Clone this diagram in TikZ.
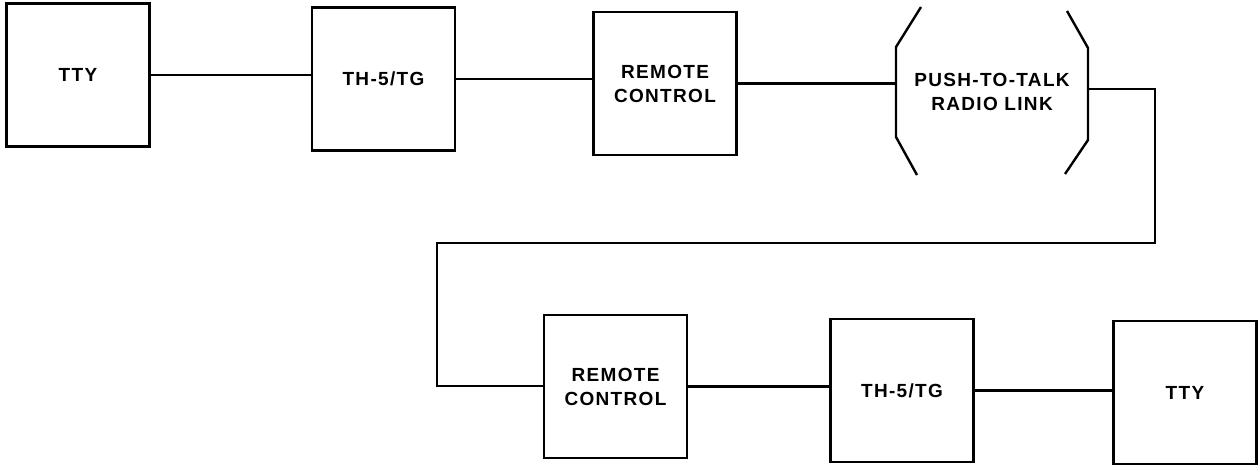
\documentclass[tikz,border=0pt]{standalone}
\usepackage{fontspec}
\setmainfont{Liberation Sans}
\begin{document}
\begin{tikzpicture}[x=1pt,y=-1pt,line width=2.4pt,
  lbl/.style={inner sep=0pt, align=center,
    font=\fontsize{19}{24}\selectfont\bfseries\addfontfeature{LetterSpace=7}},
  box/.style={lbl, draw, minimum width=143pt, minimum height=143pt}]
\useasboundingbox (0,0) rectangle (1260,466);
% top row
\node[box] (tty1) at (78,75) {TTY};
\node[box] (th1) at (383.5,79) {TH-5/TG};
\node[box] (rc1) at (665,83.5) {REMOTE\\CONTROL};
\node[lbl, minimum width=192pt, minimum height=100pt] (radio) at (992,92) {PUSH-TO-TALK\\RADIO LINK};
\draw (921,7) -- (896,47) -- (896,137) -- (917,175);
\draw (1067,11) -- (1088,48) -- (1088,140) -- (1065,174);
% bottom row
\node[box] (rc2) at (615.5,386.5) {REMOTE\\CONTROL};
\node[box] (th2) at (902,390.5) {TH-5/TG};
\node[box] (tty2) at (1185,392.5) {TTY};
% connectors
\draw (tty1.east) -- (tty1.east -| th1.west);
\draw (th1.east) -- (th1.east -| rc1.west);
\draw (rc1.east) -- (rc1.east -| radio.west);
\coordinate (r1) at (1155,89);
\coordinate (r2) at (1155,243);
\coordinate (r3) at (437,243);
\coordinate (r4) at (437,386);
\draw (radio.east |- r1) -- (r1) -- (r2) -- (r3) -- (r4) -- (r4 -| rc2.west);
\draw (rc2.east) -- (rc2.east -| th2.west);
\draw (th2.east) -- (th2.east -| tty2.west);
\end{tikzpicture}
\end{document}
